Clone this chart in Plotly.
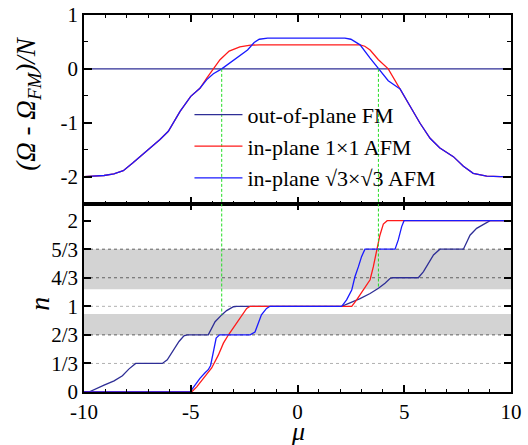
import plotly.graph_objects as go
from plotly.subplots import make_subplots

# ---------------- data ----------------
# top panel: (Omega - Omega_FM)/N vs mu
fm_mu = [-10, 10]
fm_omega = [0, 0]

afm11_mu = [-10, -9.5, -9.06, -8.6, -8.16, -7.72, -7.1, -6.44, -6.05, -5.5, -5.0, -4.57,
            -4.25, -3.94, -3.63, -3.2, -2.7, -2.2, -1.8, 2.93, 3.15, 3.40, 3.79, 4.25, 4.8,
            5.27, 5.74, 6.21, 6.67, 7.3, 7.77, 8.23, 8.86, 9.5, 10]
afm11_omega = [-2.0, -1.995, -1.98, -1.95, -1.89, -1.75, -1.54, -1.31, -1.16, -0.79, -0.51, -0.36,
               -0.17, 0.0, 0.17, 0.33, 0.41, 0.44, 0.445, 0.445, 0.42, 0.35, 0.17, 0.0, -0.37,
               -0.69, -1.01, -1.29, -1.47, -1.63, -1.81, -1.94, -1.99, -2.0, -2.0]

afm33_mu = [-10, -9.5, -9.06, -8.6, -8.16, -7.72, -7.1, -6.44, -6.05, -5.5, -5.0, -4.57,
            -4.25, -3.94, -3.55, -2.97, -2.34, -2.03, -1.79, -1.40, 2.22, 2.5, 2.77, 2.93,
            3.40, 3.79, 4.25, 4.72, 4.8,
            5.27, 5.74, 6.21, 6.67, 7.3, 7.77, 8.23, 8.86, 9.5, 10]
afm33_omega = [-2.0, -1.995, -1.98, -1.95, -1.89, -1.75, -1.54, -1.31, -1.16, -0.79, -0.51, -0.36,
               -0.2, -0.09, 0.0, 0.17, 0.35, 0.49, 0.55, 0.57, 0.57, 0.55, 0.49, 0.446,
               0.20, 0.0, -0.22, -0.35, -0.37,
               -0.69, -1.01, -1.29, -1.47, -1.63, -1.81, -1.94, -1.99, -2.0, -2.0]

# bottom panel: n vs mu
fm_n_mu = [-10, -9.77, -9.06, -8.59, -8.2, -7.89, -7.58, -6.33, -6.10, -5.86, -5.55, -5.32, -5.16,
           -4.18, -4.02, -3.86, -3.55, -3.32, -3.0, -2.85, 2.07, 2.44, 2.93, 3.40, 3.79, 4.10,
           4.33, 4.45, 5.66, 5.90, 6.13, 6.37, 6.67, 7.77, 7.93, 8.08, 8.39, 8.78, 9.02, 10]
fm_n = [0, 0, 0.08, 0.13, 0.19, 0.27, 1/3, 1/3, 0.375, 0.47, 0.59, 0.655, 2/3,
        2/3, 0.74, 0.82, 0.90, 0.95, 0.995, 1, 1, 1.035, 1.09, 1.15, 1.21, 1.27,
        1.325, 4/3, 4/3, 1.405, 1.50, 1.60, 5/3, 5/3, 1.75, 1.83, 1.91, 1.97, 2, 2]

afm11_n_mu = [-10, -4.96, -4.72, -4.41, -4.02, -3.71, -3.47, -3.24, -2.93, -2.61, -2.38, -2.22,
              2.54, 2.77, 3.08, 3.40, 3.55, 3.71, 3.86, 4.02, 4.20, 10]
afm11_n = [0, 0, 0.06, 0.16, 0.28, 0.43, 0.57, 0.665, 0.78, 0.885, 0.975, 1,
           1, 1.075, 1.19, 1.31, 1.46, 1.66, 1.83, 1.96, 2, 2]

afm33_n_mu = [-10, -5.03, -4.8, -4.57, -4.33, -4.18, -4.07, -3.94, -3.81, -3.65, -2.22, -1.99,
              -1.84, -1.69, -1.45, -1.29, 2.07, 2.30, 2.54, 2.69, 2.85, 3.0, 3.16, 4.57, 4.72,
              4.88, 4.99, 10]
afm33_n = [0, 0, 0.08, 0.16, 0.225, 0.26, 0.31, 0.49, 0.63, 2/3, 2/3, 0.70,
           0.80, 0.90, 0.975, 1, 1, 1.075, 1.19, 1.345, 1.46, 1.58, 5/3, 5/3, 1.775,
           1.93, 2, 2]

# marker lines (green) at the zero crossings, and gray filling bands
cross_mu = [-3.55, 3.79]
cross_n = [0.90, 1.21]
band_lo = [2/3, 1.2]
band_hi = [0.91, 5/3]

n_tickvals = [0, 1/3, 2/3, 1, 4/3, 5/3, 2]
n_ticktext = ["0", "1/3", "2/3", "1", "4/3", "5/3", "2"]
grid_light = [1/3, 1]
grid_dark = [2/3, 4/3, 5/3]

names = ["out-of-plane FM", "in-plane 1\u00d71 AFM", "in-plane \u221a3\u00d7\u221a3 AFM"]
colors = ["#2e2e96", "#ff1a1a", "#1a1aff"]

# ---------------- figure ----------------
FONT = "Liberation Serif"
fig = make_subplots(rows=2, cols=1, shared_xaxes=True, vertical_spacing=0)

top_sets = [(fm_mu, fm_omega), (afm11_mu, afm11_omega), (afm33_mu, afm33_omega)]
bot_sets = [(fm_n_mu, fm_n), (afm11_n_mu, afm11_n), (afm33_n_mu, afm33_n)]

for (x, y), name, c in zip(top_sets, names, colors):
    fig.add_trace(go.Scatter(x=x, y=y, mode="lines", name=name,
                             line=dict(color=c, width=1.3)), row=1, col=1)
for (x, y), name, c in zip(bot_sets, names, colors):
    fig.add_trace(go.Scatter(x=x, y=y, mode="lines", name=name, showlegend=False,
                             line=dict(color=c, width=1.3)), row=2, col=1)

# green dashed lines
for m, nv in zip(cross_mu, cross_n):
    fig.add_trace(go.Scatter(x=[m, m], y=[0, -2.5], mode="lines", showlegend=False,
                             line=dict(color="#22dd22", width=1, dash="3px,2px")), row=1, col=1)
    fig.add_trace(go.Scatter(x=[m, m], y=[2.2, nv], mode="lines", showlegend=False,
                             line=dict(color="#22dd22", width=1, dash="3px,2px")), row=2, col=1)

# gray bands
for lo, hi in zip(band_lo, band_hi):
    fig.add_shape(type="rect", xref="x2", yref="y2", x0=-10, x1=10, y0=lo, y1=hi,
                  fillcolor="#d3d3d3", line=dict(width=0), layer="below")
for g in grid_light:
    fig.add_shape(type="line", xref="x2", yref="y2", x0=-10, x1=10, y0=g, y1=g,
                  line=dict(color="#b0b0b0", width=1, dash="dot"), layer="below")
for g in grid_dark:
    fig.add_shape(type="line", xref="x2", yref="y2", x0=-10, x1=10, y0=g, y1=g,
                  line=dict(color="#606060", width=1, dash="dot"), layer="below")

axis_common = dict(showline=True, linecolor="black", linewidth=1.5, mirror="ticks",
                   ticks="inside", tickcolor="black", tickwidth=1.5, showgrid=False,
                   zeroline=False, automargin=False,
                   tickfont=dict(family=FONT, size=21, color="black"))

fig.update_xaxes(range=[-10, 10], tickvals=[-10, -5, 0, 5, 10], ticklen=7,
                 minor=dict(ticks="inside", dtick=1, ticklen=3, tickcolor="black", tickwidth=1.1),
                 **axis_common)
fig.update_xaxes(showticklabels=False, row=1, col=1)
fig.update_xaxes(ticktext=["-10", "-5", "0", "5", "10"], row=2, col=1)

fig.update_yaxes(range=[-2.5, 1], tickvals=[-2, -1, 0, 1], ticktext=["-2", "-1", "0", "1"],
                 ticklen=8, domain=[0.5, 1],
                 minor=dict(ticks="inside", tickvals=[-1.5, -0.5, 0.5], ticklen=4,
                            tickcolor="black", tickwidth=1.1),
                 **axis_common, row=1, col=1)
fig.update_yaxes(range=[0, 2.2], tickvals=n_tickvals, ticktext=n_ticktext, ticklen=7,
                 domain=[0, 0.5], **axis_common, row=2, col=1)

fig.update_layout(
    width=528, height=445,
    margin=dict(l=84, r=17, t=15, b=53, autoexpand=False),
    paper_bgcolor="white", plot_bgcolor="white",
    font=dict(family=FONT, size=20, color="black"),
    showlegend=True,
    legend=dict(x=0.247, y=0.791, xanchor="left", yanchor="top",
                bgcolor="rgba(0,0,0,0)", font=dict(family=FONT, size=22, color="black"),
                itemwidth=48, tracegroupgap=0),
    annotations=[
        dict(text="<i>(\u03a9 - \u03a9<sub>FM</sub>)/N</i>", xref="paper", yref="paper",
             x=-0.131, y=0.765, xanchor="center", yanchor="middle", textangle=-90,
             showarrow=False, font=dict(family=FONT, size=27, color="black")),
        dict(text="<i>n</i>", xref="paper", yref="paper",
             x=-0.103, y=0.234, xanchor="center", yanchor="middle", textangle=-90,
             showarrow=False, font=dict(family=FONT, size=28, color="black")),
        dict(text="<i>\u03bc</i>", xref="paper", yref="paper",
             x=0.501, y=-0.105, xanchor="center", yanchor="middle",
             showarrow=False, font=dict(family=FONT, size=26, color="black")),
    ],
)

fig.write_html("out.html")
